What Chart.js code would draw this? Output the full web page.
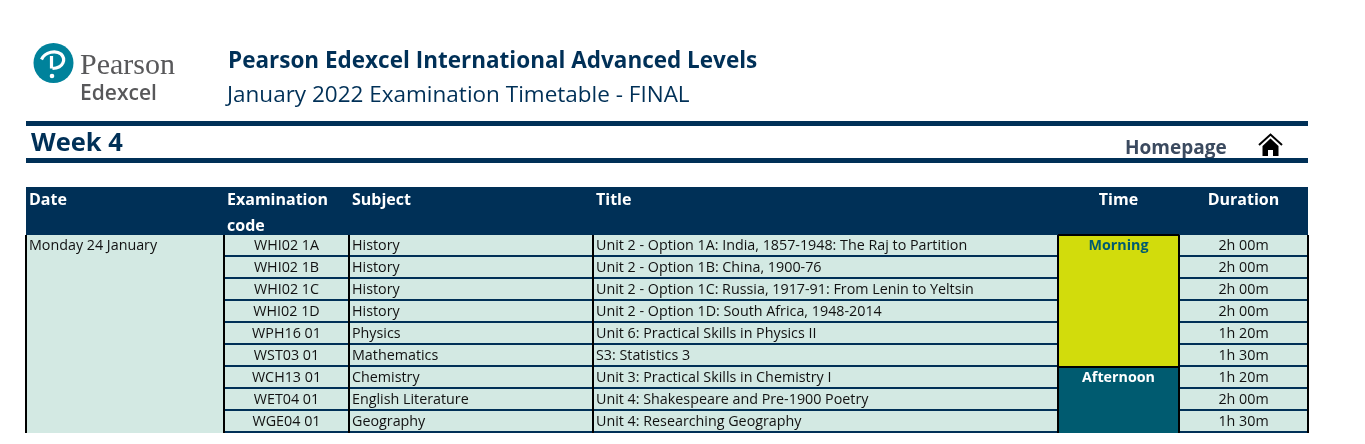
<!DOCTYPE html>
<html lang="en">
<head>
<meta charset="utf-8">
<title>January 2022 Examination Timetable</title>
<script src="https://cdn.jsdelivr.net/npm/chart.js@4/dist/chart.umd.min.js"></script>
<style>
  html, body { margin: 0; padding: 0; background: #fff; overflow: hidden; }
  body { width: 1365px; height: 444px; position: relative; font-family: "Open Sans", sans-serif; color: #003057; }
  #timetable { position: absolute; left: 0; top: 0; }
  .txt { position: absolute; white-space: nowrap; line-height: 1; }
  .rule { position: absolute; left: 26px; width: 1282px; height: 5px; background: #003057; }
  svg { position: absolute; }
</style>
</head>
<body>
<canvas id="timetable" width="1365" height="444"></canvas>
<svg style="left:33px;top:42px" width="42" height="42" viewBox="0 0 42 42">
  <circle cx="20.500" cy="21" r="20" fill="#00829B"/>
  <path d="M8.500 17.500C12 9.500 23 8 28 12C33 17 31 26 19.500 26.500M18.500 14V26.500" fill="none" stroke="#fff" stroke-width="3.200"/>
  <circle cx="19" cy="34" r="2.300" fill="#fff"/>
</svg>
<div class="txt" style="left:80px;top:47px;font:30px 'Liberation Serif',serif;color:#58585a">Pearson</div>
<div class="txt" style="left:80px;top:78px;font:600 21px 'Open Sans',sans-serif;color:#58585a">Edexcel</div>
<div class="txt" style="left:228px;top:44px;font:700 22.500px 'Open Sans',sans-serif">Pearson Edexcel International Advanced Levels</div>
<div class="txt" style="left:227px;top:78px;font:400 22.500px 'Open Sans',sans-serif">January 2022 Examination Timetable - FINAL</div>
<div class="rule" style="top:121px"></div>
<div class="txt" style="left:31px;top:124px;font:700 25.500px 'Open Sans',sans-serif">Week 4</div>
<div class="txt" style="left:1125px;top:134px;font:700 19px 'Open Sans',sans-serif;color:#3b4a5f">Homepage</div>
<svg style="left:1258px;top:133px" width="25" height="24" viewBox="0 0 25 24">
  <path d="M1 12 12.500 1.500 24 12" fill="none" stroke="#000" stroke-width="2"/>
  <path d="M4.500 13 12.500 5.500 20.500 13V23h-5.500v-6h-5v6H4.500z" fill="#000"/>
</svg>
<div class="rule" style="top:158px"></div>

<script>
// 표 데이터
const columnTitles = ['Date', ['Examination', 'code'], 'Subject', 'Title', 'Time', 'Duration'];
const dates = ['Monday 24 January', 'Monday 24 January', 'Monday 24 January', 'Monday 24 January', 'Monday 24 January',
  'Monday 24 January', 'Monday 24 January', 'Monday 24 January', 'Monday 24 January'];
const codes = ['WHI02 1A', 'WHI02 1B', 'WHI02 1C', 'WHI02 1D', 'WPH16 01', 'WST03 01', 'WCH13 01', 'WET04 01', 'WGE04 01'];
const subjects = ['History', 'History', 'History', 'History', 'Physics', 'Mathematics', 'Chemistry', 'English Literature', 'Geography'];
const titles = [
  'Unit 2 - Option 1A: India, 1857-1948: The Raj to Partition',
  'Unit 2 - Option 1B: China, 1900-76',
  'Unit 2 - Option 1C: Russia, 1917-91: From Lenin to Yeltsin',
  'Unit 2 - Option 1D: South Africa, 1948-2014',
  'Unit 6: Practical Skills in Physics II',
  'S3: Statistics 3',
  'Unit 3: Practical Skills in Chemistry I',
  'Unit 4: Shakespeare and Pre-1900 Poetry',
  'Unit 4: Researching Geography',
];
const sessions = ['Morning', 'Morning', 'Morning', 'Morning', 'Morning', 'Morning', 'Afternoon', 'Afternoon', 'Afternoon'];
const durations = ['2h 00m', '2h 00m', '2h 00m', '2h 00m', '1h 20m', '1h 30m', '1h 20m', '2h 00m', '1h 30m'];

// 레이아웃 / 스타일
const columnWidths = [198, 125, 244, 465, 121, 129];
const columnAligns = ['left', 'center', 'left', 'left', 'center', 'center'];
const columnTexts = [dates, codes, subjects, titles, sessions, durations];
const NAVY = '#003057';
const CELL = '#D3E9E3';
const sessionFill = { Morning: '#D2DC0C', Afternoon: '#005B70' };
const sessionText = { Morning: '#005B70', Afternoon: '#FFFFFF' };
const HEADER_HEIGHT = 48;
const TEXT_INSET = 3;

const rowLabels = codes;

// 열 경계값 (x축 값)
const columnEdges = columnWidths.reduce((acc, w) => [...acc, acc[acc.length - 1] + w], [0]);

const tablePlugin = {
  id: 'tablePlugin',
  // 헤더 배경과 글자
  beforeDatasetsDraw(chart) {
    const { ctx, scales: { x, y } } = chart;
    ctx.save();
    ctx.fillStyle = NAVY;
    ctx.fillRect(x.left, y.top - HEADER_HEIGHT, x.right - x.left, HEADER_HEIGHT);
    ctx.fillStyle = '#fff';
    ctx.font = '700 16px "Open Sans"';
    ctx.textBaseline = 'middle';
    columnTitles.forEach((title, c) => {
      const lines = [].concat(title);
      ctx.textAlign = columnAligns[c] === 'left' || c === 1 ? 'left' : 'center';
      const px = ctx.textAlign === 'left'
        ? x.getPixelForValue(columnEdges[c]) + TEXT_INSET
        : x.getPixelForValue((columnEdges[c] + columnEdges[c + 1]) / 2);
      lines.forEach((line, i) => ctx.fillText(line, px, y.top - HEADER_HEIGHT + 13 + i * 26));
    });
    ctx.restore();
  },
  // 격자선과 셀 글자
  afterDatasetsDraw(chart) {
    const { ctx, scales: { x, y } } = chart;
    const rowTop = (r) => y.getPixelForValue(r) - 11;
    const rowBottom = (r) => y.getPixelForValue(r) + 11;
    ctx.save();

    // 가로선 (날짜, 시간 열 제외)
    ctx.strokeStyle = NAVY;
    ctx.lineWidth = 2;
    [1, 2, 3, 5].forEach((c) => {
      rowLabels.forEach((_, r) => {
        ctx.beginPath();
        ctx.moveTo(x.getPixelForValue(columnEdges[c]), rowBottom(r) - 1);
        ctx.lineTo(x.getPixelForValue(columnEdges[c + 1]), rowBottom(r) - 1);
        ctx.stroke();
      });
    });

    // 세로선
    ctx.strokeStyle = '#000';
    columnEdges.forEach((edge) => {
      const px = x.getPixelForValue(edge);
      ctx.beginPath();
      ctx.moveTo(px, y.top);
      ctx.lineTo(px, y.bottom);
      ctx.stroke();
    });

    // Morning 칸 위아래 선
    const morningEnd = sessions.lastIndexOf('Morning');
    const timeLeft = x.getPixelForValue(columnEdges[4]);
    const timeRight = x.getPixelForValue(columnEdges[5]);
    [rowTop(0), rowBottom(morningEnd)].forEach((py) => {
      ctx.beginPath();
      ctx.moveTo(timeLeft, py);
      ctx.lineTo(timeRight, py);
      ctx.stroke();
    });

    // 셀 글자 (병합된 칸은 첫 행에만)
    ctx.textBaseline = 'middle';
    columnTexts.forEach((texts, c) => {
      texts.forEach((text, r) => {
        if ((c === 0 || c === 4) && r > 0 && texts[r - 1] === text) return;
        ctx.font = c === 4 ? '700 14.3px "Open Sans"' : '14.3px "Open Sans"';
        ctx.fillStyle = c === 4 ? sessionText[text] : '#111';
        ctx.textAlign = columnAligns[c];
        const px = columnAligns[c] === 'left'
          ? x.getPixelForValue(columnEdges[c]) + TEXT_INSET
          : x.getPixelForValue((columnEdges[c] + columnEdges[c + 1]) / 2);
        ctx.fillText(text, px, y.getPixelForValue(r));
      });
    });
    ctx.restore();
  },
};

new Chart(document.getElementById('timetable'), {
  type: 'bar',
  data: {
    labels: rowLabels,
    datasets: columnWidths.map((width, c) => ({
      label: [].concat(columnTitles[c]).join(' '),
      data: rowLabels.map(() => width),
      backgroundColor: c === 4 ? sessions.map((s) => sessionFill[s]) : CELL,
      borderWidth: 0,
      barPercentage: 1,
      categoryPercentage: 1,
    })),
  },
  options: {
    indexAxis: 'y',
    responsive: false,
    animation: false,
    layout: { padding: { left: 26, right: 57, top: 235, bottom: 11 } },
    plugins: { legend: { display: false }, tooltip: { enabled: false } },
    scales: {
      x: { display: false, stacked: true, min: 0, max: columnEdges[columnEdges.length - 1] },
      y: { display: false, stacked: true },
    },
  },
  plugins: [tablePlugin],
});
</script>
</body>
</html>
